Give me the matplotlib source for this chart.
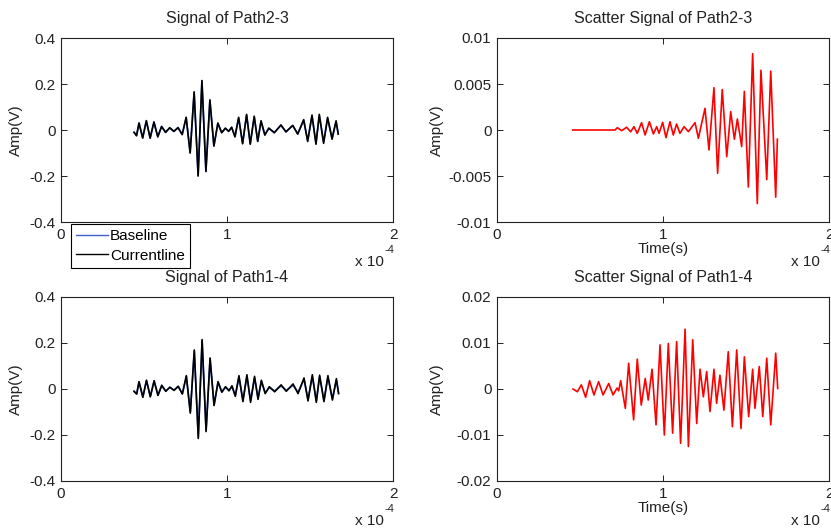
import matplotlib
matplotlib.use("Agg")
import matplotlib.pyplot as plt

plt.rcParams['font.family'] = ['Liberation Sans', 'DejaVu Sans']
plt.rcParams['font.size'] = 11

# ---- Path2-3 raw signals (time in units of 1e-4 s, amplitude in V) ----
t23 = [0.440, 0.455, 0.470, 0.492, 0.514, 0.537, 0.560, 0.583, 0.606, 0.630,
       0.655, 0.680, 0.705, 0.730, 0.754, 0.778, 0.802, 0.826, 0.849, 0.873,
       0.897, 0.921, 0.945, 0.968, 0.990, 1.010, 1.028, 1.048, 1.070, 1.094,
       1.118, 1.140, 1.164, 1.185, 1.205, 1.228, 1.252, 1.285, 1.325, 1.355,
       1.396, 1.426, 1.462, 1.486, 1.512, 1.536, 1.556, 1.582, 1.606, 1.633,
       1.657, 1.670]
cur23 = [-0.010, -0.025, 0.030, -0.035, 0.040, -0.035, 0.035, -0.030, 0.015, -0.010,
         0.010, -0.006, 0.010, -0.020, 0.055, -0.100, 0.165, -0.200, 0.215, -0.180,
         0.130, -0.070, 0.030, -0.012, 0.008, -0.006, 0.012, -0.030, 0.055, -0.060,
         0.068, -0.062, 0.060, -0.050, 0.040, -0.022, 0.008, -0.012, 0.022, -0.008,
         0.020, -0.018, 0.045, -0.050, 0.065, -0.062, 0.068, -0.058, 0.055, -0.040,
         0.040, -0.018]
base23 = [-0.010, -0.024, 0.031, -0.034, 0.041, -0.036, 0.034, -0.029, 0.016, -0.011,
          0.009, -0.006, 0.011, -0.019, 0.054, -0.099, 0.166, -0.199, 0.214, -0.181,
          0.131, -0.069, 0.029, -0.011, 0.007, -0.005, 0.011, -0.028, 0.052, -0.057,
          0.064, -0.059, 0.057, -0.048, 0.038, -0.021, 0.008, -0.011, 0.020, -0.008,
          0.019, -0.016, 0.042, -0.046, 0.060, -0.056, 0.062, -0.052, 0.050, -0.035,
          0.036, -0.016]

# ---- Path1-4 raw signals ----
t14 = [0.440, 0.456, 0.470, 0.493, 0.515, 0.538, 0.561, 0.584, 0.607, 0.631,
       0.656, 0.681, 0.706, 0.731, 0.755, 0.779, 0.803, 0.827, 0.850, 0.874,
       0.898, 0.922, 0.946, 0.969, 0.991, 1.012, 1.030, 1.050, 1.072, 1.096,
       1.120, 1.142, 1.166, 1.187, 1.207, 1.230, 1.255, 1.287, 1.326, 1.357,
       1.398, 1.428, 1.464, 1.488, 1.514, 1.538, 1.558, 1.584, 1.608, 1.635,
       1.659, 1.672]
cur14 = [-0.010, -0.022, 0.032, -0.036, 0.038, -0.034, 0.036, -0.028, 0.016, -0.010,
         0.008, -0.006, 0.012, -0.022, 0.058, -0.105, 0.170, -0.215, 0.215, -0.185,
         0.135, -0.072, 0.032, -0.014, 0.010, -0.008, 0.014, -0.032, 0.058, -0.055,
         0.062, -0.058, 0.055, -0.045, 0.038, -0.020, 0.010, -0.012, 0.018, -0.010,
         0.022, -0.020, 0.048, -0.052, 0.062, -0.058, 0.060, -0.055, 0.058, -0.048,
         0.045, -0.020]
base14 = [-0.010, -0.021, 0.031, -0.035, 0.037, -0.033, 0.035, -0.027, 0.015, -0.009,
          0.007, -0.005, 0.011, -0.020, 0.055, -0.101, 0.165, -0.209, 0.209, -0.180,
          0.131, -0.069, 0.029, -0.012, 0.007, -0.005, 0.010, -0.027, 0.050, -0.047,
          0.054, -0.050, 0.047, -0.039, 0.032, -0.016, 0.006, -0.008, 0.013, -0.006,
          0.016, -0.014, 0.041, -0.045, 0.055, -0.051, 0.054, -0.049, 0.051, -0.042,
          0.038, -0.017]

# ---- Scatter signals ----
ts23 = [0.456, 0.711, 0.725, 0.751, 0.781, 0.805, 0.825, 0.845, 0.871, 0.892,
        0.918, 0.942, 0.962, 0.976, 0.998, 1.018, 1.042, 1.062, 1.082, 1.102,
        1.127, 1.153, 1.193, 1.213, 1.253, 1.277, 1.307, 1.329, 1.357, 1.384,
        1.408, 1.430, 1.448, 1.474, 1.490, 1.514, 1.540, 1.568, 1.590, 1.625,
        1.649, 1.679, 1.689]
sc23 = [0.0, 0.0, 0.00025, -0.00007, 0.0003, -0.0002, 0.00036, -0.00036, 0.0008, -0.00054,
        0.0009, -0.00043, 0.00036, -0.00036, 0.00083, -0.00083, 0.0009, -0.00054, 0.00065, -0.00036,
        0.00036, -0.00018, 0.0008, -0.0009, 0.00235, -0.00217, 0.0046, -0.0047, 0.0044, -0.0029,
        0.0020, -0.0010, 0.0012, -0.0018, 0.0042, -0.0062, 0.0083, -0.0080, 0.0065, -0.0054,
        0.0064, -0.0073, -0.0010]

ts14 = [0.458, 0.484, 0.508, 0.534, 0.558, 0.584, 0.612, 0.639, 0.673, 0.699,
        0.723, 0.733, 0.745, 0.773, 0.793, 0.823, 0.845, 0.869, 0.893, 0.911,
        0.934, 0.958, 0.982, 1.008, 1.032, 1.058, 1.082, 1.106, 1.133, 1.153,
        1.179, 1.203, 1.223, 1.243, 1.263, 1.283, 1.307, 1.323, 1.343, 1.367,
        1.393, 1.418, 1.444, 1.470, 1.490, 1.516, 1.540, 1.554, 1.580, 1.601,
        1.625, 1.649, 1.679, 1.691]
sc14 = [0.0, -0.0006, 0.0009, -0.0018, 0.0018, -0.0013, 0.0016, -0.0013, 0.0012, -0.0013,
        0.0002, -0.0004, 0.0018, -0.0042, 0.0056, -0.0067, 0.0065, -0.0035, 0.0023, -0.0024,
        0.0043, -0.0078, 0.0096, -0.0100, 0.0099, -0.0096, 0.0103, -0.0118, 0.0130, -0.0125,
        0.0107, -0.0075, 0.0043, -0.0017, 0.0038, -0.0049, 0.0043, -0.0031, 0.0030, -0.0046,
        0.0081, -0.0082, 0.0085, -0.0086, 0.0070, -0.0060, 0.0043, -0.0042, 0.0049, -0.0060,
        0.0067, -0.0078, 0.0078, 0.0001]

x_ticks = [0, 1, 2]
x_ticklabels = ['0', '1', '2']
raw_yticks = [-0.4, -0.2, 0, 0.2, 0.4]
raw_ylabels = ['-0.4', '-0.2', '0', '0.2', '0.4']
sc23_yticks = [-0.01, -0.005, 0, 0.005, 0.01]
sc23_ylabels = ['-0.01', '-0.005', '0', '0.005', '0.01']
sc14_yticks = [-0.02, -0.01, 0, 0.01, 0.02]
sc14_ylabels = ['-0.02', '-0.01', '0', '0.01', '0.02']

SCALE = 1e-4
BLUE = '#3f5fd0'
INK = '#222222'

W, H = 831, 528
fig = plt.figure(figsize=(W / 100, H / 100), dpi=100)


def make_axes(left, top):
    return fig.add_axes([left / W, 1 - (top + 184) / H, 332 / W, 184 / H])


def style(ax, yticks, ylabels, ylim, title, ylabel_x, xlabel=None):
    ax.set_xlim(0, 2 * SCALE)
    ax.set_ylim(*ylim)
    ax.set_xticks([v * SCALE for v in x_ticks])
    ax.set_xticklabels(x_ticklabels)
    ax.set_yticks(yticks)
    ax.set_yticklabels(ylabels)
    ax.tick_params(direction='in', top=True, right=True, length=4, width=0.7,
                   labelsize=11, colors=INK)
    ax.tick_params(axis='x', pad=4)
    ax.tick_params(axis='y', pad=4)
    for s in ax.spines.values():
        s.set_linewidth(0.8)
        s.set_color(INK)
    ax.set_title(title, fontsize=11.5, pad=11, color=INK)
    ax.set_ylabel('Amp(V)', fontsize=11, color=INK)
    ax.yaxis.set_label_coords(ylabel_x, 0.5)
    if xlabel:
        ax.set_xlabel(xlabel, fontsize=11, color=INK)
        ax.xaxis.set_label_coords(0.5, -0.11)
    ax.text(0.973, -0.215, 'x 10', transform=ax.transAxes, ha='right',
            va='center', fontsize=11, color=INK)
    ax.text(0.975, -0.15, '-4', transform=ax.transAxes, ha='left',
            va='center', fontsize=8, color=INK)


ax1 = make_axes(61, 38)
ax2 = make_axes(497, 38)
ax3 = make_axes(61, 297)
ax4 = make_axes(497, 297)

LW = 1.2

hb, = ax1.plot([v * SCALE for v in t23], base23, color=BLUE, lw=LW)
hc, = ax1.plot([v * SCALE for v in t23], cur23, color='black', lw=LW)
style(ax1, raw_yticks, raw_ylabels, (-0.4, 0.4), 'Signal of Path2-3', -0.114)
leg = ax1.legend([hb, hc], ['Baseline', 'Currentline'], loc='upper left',
                 bbox_to_anchor=(0.03, -0.011), borderaxespad=0, fontsize=11,
                 handlelength=2.1, handletextpad=0.1, borderpad=0.35,
                 labelspacing=0.35, fancybox=False, framealpha=1)
leg.get_frame().set_edgecolor('black')
leg.get_frame().set_linewidth(0.8)
for line in leg.get_lines():
    line.set_linewidth(1.0)

ax2.plot([v * SCALE for v in ts23], sc23, color='#ff0000', lw=LW)
style(ax2, sc23_yticks, sc23_ylabels, (-0.01, 0.01), 'Scatter Signal of Path2-3',
      -0.16, 'Time(s)')

ax3.plot([v * SCALE for v in t14], base14, color=BLUE, lw=LW)
ax3.plot([v * SCALE for v in t14], cur14, color='black', lw=LW)
style(ax3, raw_yticks, raw_ylabels, (-0.4, 0.4), 'Signal of Path1-4', -0.114)

ax4.plot([v * SCALE for v in ts14], sc14, color='#ff0000', lw=LW)
style(ax4, sc14_yticks, sc14_ylabels, (-0.02, 0.02), 'Scatter Signal of Path1-4',
      -0.16, 'Time(s)')

fig.savefig('out.png', dpi=100)
